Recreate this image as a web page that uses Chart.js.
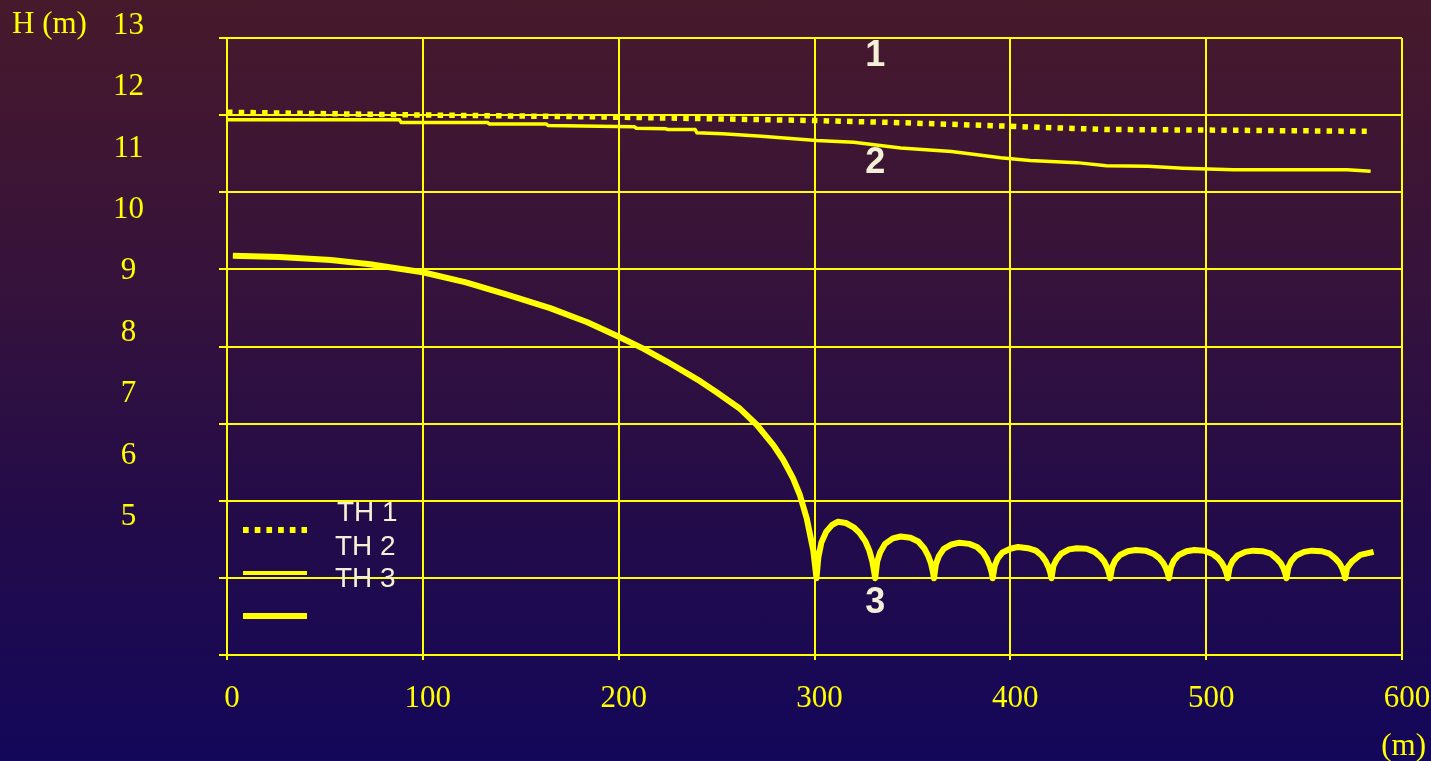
<!DOCTYPE html>
<html>
<head>
<meta charset="utf-8">
<title>H (m)</title>
<script src="https://cdn.jsdelivr.net/npm/chart.js@4.4.1/dist/chart.umd.min.js"></script>
<style>
  html, body { margin: 0; padding: 0; }
  body {
    width: 1431px;
    height: 761px;
    overflow: hidden;
    background: linear-gradient(to bottom, #47192b 0%, #37133a 35%, #250c48 65%, #13075a 100%);
  }
  canvas { display: block; }
</style>
</head>
<body>
<canvas id="chart" width="1431" height="761"></canvas>
<script>
// distance (m) and head H (m) for each case
const dist1 = [0, 88, 190, 301, 345, 388, 448, 502, 582];
const head1 = [11.59, 11.55, 11.515, 11.455, 11.42, 11.375, 11.31, 11.30, 11.28];

const dist2 = [0, 88, 89, 133, 134, 163, 164, 190, 208, 209, 224, 225, 239, 240, 253, 273,
               301, 320, 344, 370, 395, 410, 434, 449, 470, 488, 514, 572, 584];
const head2 = [11.467, 11.467, 11.423, 11.423, 11.40, 11.40, 11.374, 11.363, 11.355, 11.33, 11.32, 11.31, 11.31, 11.255, 11.24, 11.20,
               11.13, 11.10, 11.01, 10.95, 10.85, 10.805, 10.77, 10.72, 10.71, 10.68, 10.654, 10.654, 10.63];

const dist3 = [
  3, 27, 53, 73, 100, 122, 143, 165, 184, 199, 212.6, 224.6, 241.6, 250, 262, 270.5, 279, 284, 289, 292.5, 296, 299.4, 301,
  302, 303.5, 306, 309, 312, 316, 320, 323, 326, 328, 329.5, 330.5, 331,
  332, 333.5, 336, 340, 344, 349, 353, 356, 358, 359.5, 360.5, 361,
  362, 363.5, 366, 370, 374, 379, 383, 386, 388, 389.5, 390.5, 391,
  392, 393.5, 396, 400, 404, 409, 413, 416, 418, 419.5, 420.5, 421,
  422, 423.5, 426, 430, 434, 439, 443, 446, 448, 449.5, 450.5, 451,
  452, 453.5, 456, 460, 464, 469, 473, 476, 478, 479.5, 480.5, 481,
  482, 483.5, 486, 490, 494, 499, 503, 506, 508, 509.5, 510.5, 511,
  512, 513.5, 516, 520, 524, 529, 533, 536, 538, 539.5, 540.5, 541,
  542, 543.5, 546, 550, 554, 559, 563, 566, 568, 569.5, 570.5, 571,
  572, 574.4, 578.7, 585.5
];
const head3 = [
  9.255, 9.233, 9.184, 9.114, 8.984, 8.82, 8.62, 8.40, 8.17, 7.95, 7.74, 7.53, 7.21, 7.03, 6.76, 6.50, 6.17, 5.93, 5.63, 5.36, 4.98, 4.45, 4.0,
  4.35, 4.58, 4.76, 4.87, 4.92, 4.90, 4.83, 4.74, 4.60, 4.45, 4.28, 4.10, 4.0,
  4.27, 4.42, 4.56, 4.65, 4.68, 4.66, 4.60, 4.49, 4.37, 4.24, 4.10, 4.0,
  4.23, 4.36, 4.48, 4.55, 4.58, 4.56, 4.51, 4.42, 4.32, 4.20, 4.09, 4.0,
  4.20, 4.32, 4.42, 4.48, 4.51, 4.49, 4.45, 4.37, 4.28, 4.18, 4.08, 4.0,
  4.20, 4.30, 4.40, 4.47, 4.49, 4.48, 4.43, 4.35, 4.27, 4.17, 4.07, 4.0,
  4.18, 4.29, 4.38, 4.44, 4.46, 4.45, 4.40, 4.33, 4.25, 4.16, 4.07, 4.0,
  4.18, 4.29, 4.38, 4.44, 4.46, 4.45, 4.40, 4.33, 4.25, 4.16, 4.07, 4.0,
  4.18, 4.28, 4.37, 4.43, 4.45, 4.44, 4.40, 4.32, 4.25, 4.16, 4.07, 4.0,
  4.18, 4.28, 4.37, 4.43, 4.45, 4.44, 4.40, 4.32, 4.25, 4.16, 4.07, 4.0,
  4.17, 4.27, 4.38, 4.43
];

const xTickLabels = [0, 100, 200, 300, 400, 500, 600];
const yTickLabels = [5, 6, 7, 8, 9, 10, 11, 12, 13];
const seriesNames = ['TH 1', 'TH 2', 'TH 3'];
const curveTags = ['1', '2', '3'];

const YELLOW = '#ffff00';
const CREAM = '#f4f0d8';
const SERIF = '"Liberation Serif", "Times New Roman", serif';
const SANS = '"Liberation Sans", Arial, sans-serif';

const toPoints = (xs, ys) => xs.map((x, i) => ({ x, y: ys[i] }));

// keep the axes from reserving extra room for their end labels
const noPadding = s => {
    s.paddingTop = 0;
    s.paddingBottom = 0;
    s.paddingLeft = 0;
    s.paddingRight = 0;
};

// axis captions, curve numbers and the small key in the lower left
const annotations = {
    id: 'annotations',
    afterDraw(chart) {
        const { ctx, scales: { x, y } } = chart;
        ctx.save();
        ctx.textBaseline = 'middle';

        ctx.fillStyle = YELLOW;
        ctx.font = `31px ${SERIF}`;
        ctx.textAlign = 'left';
        ctx.fillText('H (m)', 12, 25);
        ctx.textAlign = 'right';
        ctx.fillText('(m)', 1426, 747);

        ctx.fillStyle = CREAM;
        ctx.font = `bold 36px ${SANS}`;
        ctx.textAlign = 'center';
        const tagAt = [[331, 12.51], [331, 10.76], [331, 3.59]];
        curveTags.forEach((t, i) => {
            ctx.fillText(t, x.getPixelForValue(tagAt[i][0]), y.getPixelForValue(tagAt[i][1]));
        });

        // key
        ctx.strokeStyle = YELLOW;
        const samples = [
            { y: 530, width: 6, dash: [5.7, 6] },
            { y: 573, width: 4, dash: [] },
            { y: 616, width: 6, dash: [] }
        ];
        samples.forEach(s => {
            ctx.beginPath();
            ctx.lineWidth = s.width;
            ctx.setLineDash(s.dash);
            ctx.moveTo(243, s.y);
            ctx.lineTo(307, s.y);
            ctx.stroke();
        });
        ctx.setLineDash([]);
        ctx.fillStyle = CREAM;
        ctx.font = `28px ${SANS}`;
        ctx.textAlign = 'left';
        const keyY = [513, 547, 579];
        seriesNames.forEach((n, i) => ctx.fillText(n, i === 0 ? 337 : 335, keyY[i]));
        ctx.restore();
    }
};

new Chart(document.getElementById('chart'), {
    type: 'line',
    data: {
        datasets: [
            {
                label: seriesNames[0],
                data: toPoints(dist1, head1),
                yAxisID: 'y',
                borderColor: YELLOW,
                borderWidth: 5.5,
                borderDash: [5.5, 6.2],
                borderCapStyle: 'butt'
            },
            {
                label: seriesNames[1],
                data: toPoints(dist2, head2),
                yAxisID: 'y',
                borderColor: YELLOW,
                borderWidth: 3.5
            },
            {
                label: seriesNames[2],
                data: toPoints(dist3, head3),
                yAxisID: 'y',
                borderColor: YELLOW,
                borderWidth: 6,
                borderJoinStyle: 'round'
            }
        ]
    },
    options: {
        responsive: false,
        animation: false,
        elements: {
            point: { radius: 0 },
            line: { tension: 0, fill: false }
        },
        layout: { padding: { top: 38, right: 29, left: 0, bottom: 0 } },
        plugins: {
            legend: { display: false },
            tooltip: { enabled: false }
        },
        scales: {
            x: {
                type: 'linear',
                min: 0,
                max: 600,
                bounds: 'data',
                afterBuildTicks: s => { s.ticks = xTickLabels.map(v => ({ value: v })); },
                afterFit: s => { s.height = 106; noPadding(s); },
                grid: { color: YELLOW, lineWidth: 2, tickLength: 5 },
                border: { color: YELLOW, width: 2 },
                ticks: {
                    color: YELLOW,
                    font: { family: SERIF, size: 31 },
                    padding: 20,
                    labelOffset: 5,
                    maxRotation: 0,
                    autoSkip: false
                }
            },
            y: {
                type: 'linear',
                position: 'left',
                weight: 1,
                min: 2.75,
                max: 12.8,
                bounds: 'data',
                afterBuildTicks: s => { s.ticks = yTickLabels.map(v => ({ value: v })); },
                afterFit: s => { s.width = 219; noPadding(s); },
                grid: { display: false, drawTicks: false },
                border: { display: false },
                ticks: {
                    color: YELLOW,
                    font: { family: SERIF, size: 31 },
                    padding: 75,
                    crossAlign: 'center',
                    autoSkip: false
                }
            },
            yGrid: {
                type: 'linear',
                position: 'left',
                weight: 0,
                min: 0,
                max: 8,
                ticks: { display: false, stepSize: 1 },
                afterFit: s => { s.width = 8; noPadding(s); },
                grid: { color: YELLOW, lineWidth: 2, tickLength: 8 },
                border: { color: YELLOW, width: 2 }
            }
        }
    },
    plugins: [annotations]
});
</script>
</body>
</html>
